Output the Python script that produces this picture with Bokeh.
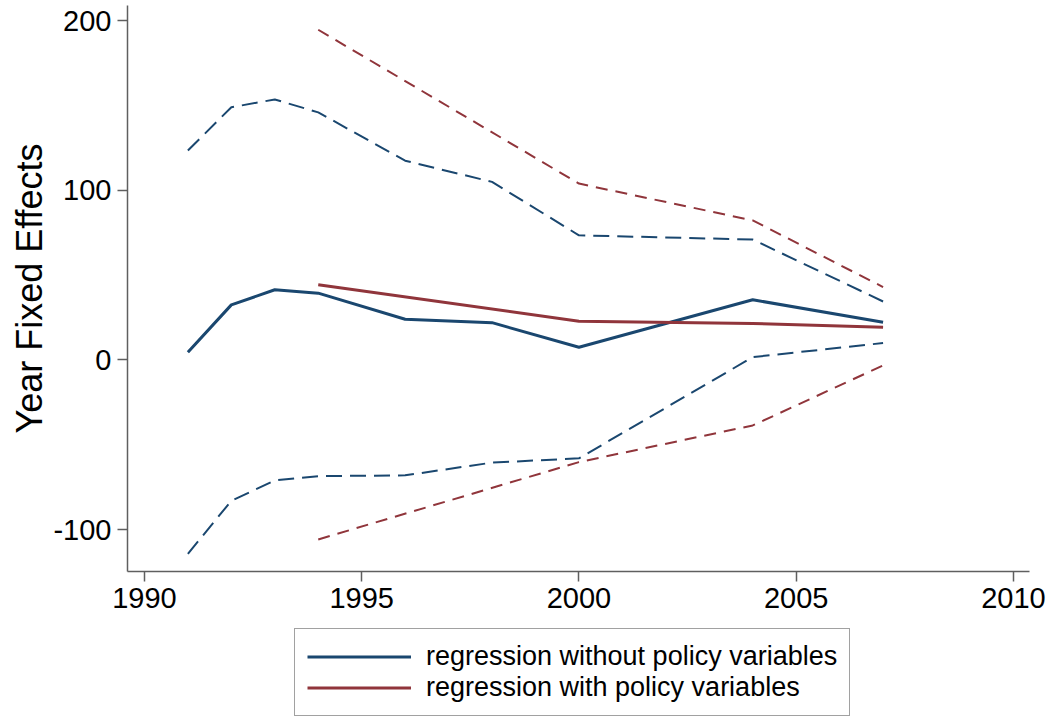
from bokeh.plotting import figure
from bokeh.models import Range1d, FixedTicker, Legend, LegendItem
from bokeh.layouts import column
from bokeh.embed import file_html
from bokeh.resources import INLINE

# ---- data ----
years_blue = [1991, 1992, 1993, 1994, 1996, 1998, 2000, 2004, 2007]
blue_est = [4.6, 32.5, 41.4, 39.4, 24.0, 22.0, 7.5, 35.5, 22.3]
blue_upper = [123.5, 149.0, 153.6, 146.0, 117.5, 105.0, 73.5, 71.0, 34.5]
blue_lower = [-114.3, -83.0, -71.0, -68.5, -68.0, -60.5, -58.0, 1.7, 10.0]

years_red = [1994, 2000, 2004, 2007]
red_est = [44.3, 22.9, 21.5, 19.3]
red_upper = [194.7, 104.0, 82.3, 43.0]
red_lower = [-105.8, -60.2, -38.6, -3.2]

x_ticks = [1990, 1995, 2000, 2005, 2010]
y_ticks = [-100, 0, 100, 200]
y_tick_labels = {-100: "-100", 0: "0", 100: "100", 200: "200"}

series_labels = ["regression without policy variables", "regression with policy variables"]

BLUE = "#1a476f"
RED = "#90353b"
FONT = "Liberation Sans"

p = figure(width=1050, height=620, output_backend="svg", toolbar_location=None,
           x_range=Range1d(1989.61, 2010.37), y_range=Range1d(-124.7, 209.0),
           min_border_left=127, min_border_top=5, min_border_right=21,
           min_border_bottom=49)

p.outline_line_color = None
p.xgrid.visible = False
p.ygrid.visible = False
p.background_fill_color = "white"
p.border_fill_color = "white"

for ax in (p.xaxis, p.yaxis):
    ax.axis_line_color = "#5f5f5f"
    ax.axis_line_width = 1.5
    ax.major_tick_line_color = "#5f5f5f"
    ax.major_tick_line_width = 1.5
    ax.major_tick_out = 10
    ax.major_tick_in = 0
    ax.minor_tick_line_color = None
    ax.major_label_text_font = FONT
    ax.major_label_text_font_size = "29px"
    ax.major_label_text_color = "black"

p.xaxis.ticker = FixedTicker(ticks=x_ticks)
p.yaxis.ticker = FixedTicker(ticks=y_ticks)
p.yaxis.major_label_overrides = y_tick_labels
p.xaxis.major_label_standoff = 6
p.yaxis.major_label_standoff = 6
p.yaxis.axis_label = "Year Fixed Effects"
p.yaxis.axis_label_text_font = FONT
p.yaxis.axis_label_text_font_size = "36px"
p.yaxis.axis_label_text_font_style = "normal"
p.yaxis.axis_label_text_color = "black"
p.yaxis.axis_label_standoff = 0

# confidence bounds (dashed)
p.line(years_blue, blue_upper, line_color=BLUE, line_width=2, line_dash="16 8")
p.line(years_blue, blue_lower, line_color=BLUE, line_width=2, line_dash="16 8")
p.line(years_red, red_upper, line_color=RED, line_width=2, line_dash="12 8")
p.line(years_red, red_lower, line_color=RED, line_width=2, line_dash="12 8")

# estimates (solid)
p.line(years_blue, blue_est, line_color=BLUE, line_width=3)
p.line(years_red, red_est, line_color=RED, line_width=3)

# ---- legend strip (separate figure so the legend is not clipped) ----
lg = figure(width=1050, height=101, output_backend="svg", toolbar_location=None,
            x_range=Range1d(0, 1), y_range=Range1d(0, 1),
            min_border_left=0, min_border_right=0, min_border_top=0, min_border_bottom=0)
lg.axis.visible = False
lg.xgrid.visible = False
lg.ygrid.visible = False
lg.outline_line_color = None
lg.background_fill_color = "white"
lg.border_fill_color = "white"

# legend keys: same series, drawn out of this strip's visible range
k_blue = lg.line(years_blue, blue_est, line_color=BLUE, line_width=3)
k_red = lg.line(years_red, red_est, line_color=RED, line_width=3)

legend = Legend(items=[LegendItem(label=series_labels[0], renderers=[k_blue]),
                       LegendItem(label=series_labels[1], renderers=[k_red])],
                location=(167, 5), orientation="vertical")
legend.label_text_font = FONT
legend.label_text_font_size = "27px"
legend.label_text_color = "black"
legend.glyph_width = 104
legend.glyph_height = 29
legend.label_height = 29
legend.label_standoff = 15
legend.padding = 12
legend.spacing = 0
legend.margin = 0
legend.border_line_color = "#444444"
legend.border_line_width = 1.5
legend.background_fill_alpha = 1.0
lg.add_layout(legend, "center")

layout = column(p, lg, spacing=0)
open("out.html", "w").write(file_html(layout, INLINE))
